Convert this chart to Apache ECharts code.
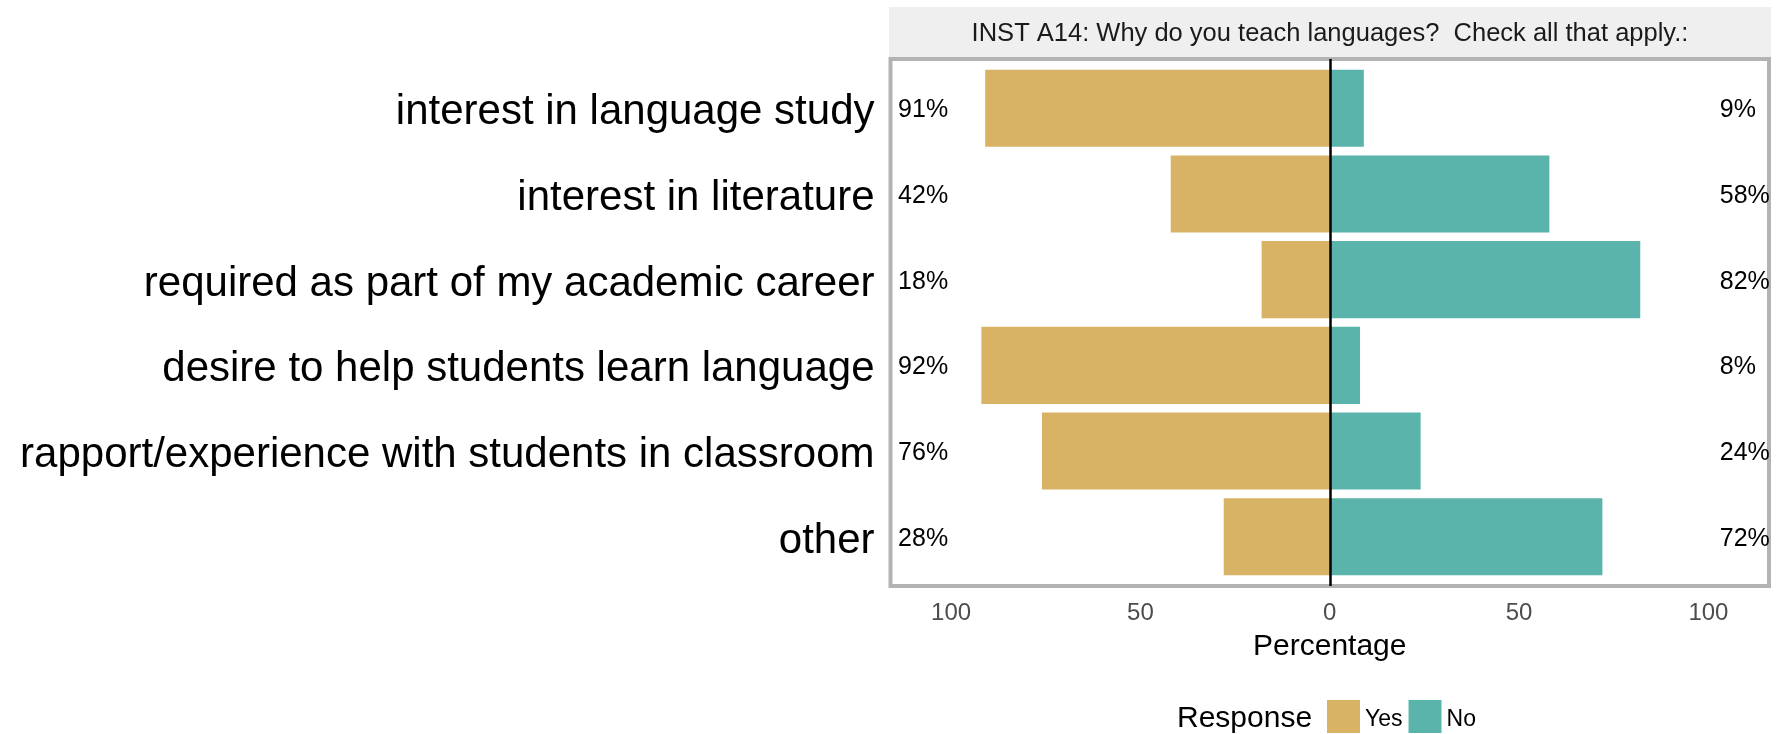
<!DOCTYPE html>
<html>
<head>
<meta charset="utf-8">
<script src="https://cdn.jsdelivr.net/npm/echarts@6/dist/echarts.min.js"></script>
<style>
  html, body { margin: 0; padding: 0; background: #fff; }
  #chart { width: 1785px; height: 734px; }
</style>
</head>
<body>
<div id="chart"></div>
<script>
// ---- data ----
const categories = [
  'interest in language study',
  'interest in literature',
  'required as part of my academic career',
  'desire to help students learn language',
  'rapport/experience with students in classroom',
  'other'
];
const yesValues = [91, 42, 18, 92, 76, 28];
const noValues = [9, 58, 82, 8, 24, 72];
const xTickValues = [-100, -50, 0, 50, 100];
const xMinorValues = [-100, -75, -50, -25, 0, 25, 50, 75, 100];
const seriesNames = ['Yes', 'No'];
const chartTitle = 'INST A14: Why do you teach languages?  Check all that apply.:';
const xAxisTitle = 'Percentage';
const legendTitle = 'Response';

// ---- styles ----
const FONT = '"Liberation Sans", Arial, Helvetica, sans-serif';
const YES_COLOR = '#D8B365';
const NO_COLOR = '#5AB4AC';
const BORDER = '#b3b3b3';
const X_MIN = -116, X_MAX = 116;
const LEFT_LABEL_X = -114, RIGHT_LABEL_X = 103;
const LABEL_DY = 2;

const catIdx = categories.map((c, i) => i);

function makeRender(sign, color, labelX) {
  return function (params, api) {
    const idx = api.value(0);
    const v = api.value(1);
    const p0 = api.coord([0, idx]);
    const p1 = api.coord([sign * v, idx]);
    const h = Math.abs(api.size([0, 0.9])[1]);
    const lp = api.coord([labelX, idx]);
    return {
      type: 'group',
      children: [
        {
          type: 'rect',
          shape: { x: Math.min(p0[0], p1[0]), y: p0[1] - h / 2, width: Math.abs(p1[0] - p0[0]), height: h },
          style: { fill: color }
        },
        {
          type: 'text',
          x: lp[0], y: lp[1] + LABEL_DY,
          style: { text: v + '%', fill: '#000', font: '25px ' + FONT, textAlign: 'left', textVerticalAlign: 'middle' }
        }
      ]
    };
  };
}

const chart = echarts.init(document.getElementById('chart'), null, { renderer: 'canvas' });

const whiteTick = { show: true, inside: true, length: 4, lineStyle: { color: '#fff', width: 2 } };

chart.setOption({
  animation: false,
  backgroundColor: '#fff',
  grid: {
    left: 890.5, right: 16, top: 59, bottom: 148,
    show: true, backgroundColor: '#fff', borderColor: BORDER, borderWidth: 4
  },
  xAxis: [
    {
      type: 'value', min: X_MIN, max: X_MAX, position: 'bottom',
      axisLine: { show: false },
      splitLine: { show: false },
      axisTick: Object.assign({ customValues: xMinorValues }, whiteTick),
      axisLabel: {
        customValues: xTickValues,
        formatter: v => String(Math.abs(v)),
        fontSize: 24, color: '#4d4d4d', fontFamily: FONT, margin: 15
      },
      name: xAxisTitle, nameLocation: 'middle', nameGap: 46,
      nameTextStyle: { fontSize: 30, color: '#000', fontFamily: FONT }
    },
    {
      type: 'value', min: X_MIN, max: X_MAX, position: 'top',
      axisLine: { show: false }, splitLine: { show: false }, axisLabel: { show: false },
      axisTick: Object.assign({ customValues: xMinorValues }, whiteTick)
    }
  ],
  yAxis: [
    {
      type: 'value', inverse: true, min: -0.575, max: 5.575, position: 'left',
      axisLine: { show: false }, splitLine: { show: false },
      axisTick: Object.assign({ customValues: catIdx }, whiteTick),
      axisLabel: {
        customValues: catIdx,
        formatter: v => categories[Math.round(v)],
        fontSize: 42, color: '#000', fontFamily: FONT, margin: 16,
        verticalAlign: 'top', lineHeight: 9
      }
    },
    {
      type: 'value', inverse: true, min: -0.575, max: 5.575, position: 'right',
      axisLine: { show: false }, splitLine: { show: false }, axisLabel: { show: false },
      axisTick: Object.assign({ customValues: catIdx }, whiteTick)
    }
  ],
  legend: {
    data: seriesNames,
    left: 1327, top: 700, padding: 0,
    itemWidth: 33, itemHeight: 33, itemGap: 6,
    icon: 'rect',
    formatter: name => '{t|' + name + '}',
    textStyle: {
      fontSize: 23, color: '#000', fontFamily: FONT,
      rich: { t: { fontSize: 23, color: '#000', fontFamily: FONT, padding: [6, 0, 0, 0] } }
    },
    selectedMode: false
  },
  graphic: [
    { type: 'rect', shape: { x: 889, y: 7, width: 882, height: 50 }, style: { fill: '#efefef' }, z: -1 },
    { type: 'text', x: 1330, y: 34, style: { text: chartTitle, font: '25.5px ' + FONT, fill: '#1a1a1a', textAlign: 'center', textVerticalAlign: 'middle' } },
    { type: 'text', x: 1177, y: 719, style: { text: legendTitle, font: '30px ' + FONT, fill: '#000', textAlign: 'left', textVerticalAlign: 'middle' } }
  ],
  series: [
    {
      name: 'zero', type: 'line', data: [], z: 1, silent: true,
      markLine: {
        silent: true, symbol: 'none', label: { show: false },
        lineStyle: { color: '#000', width: 2.5, type: 'solid' },
        data: [{ xAxis: 0 }]
      }
    },
    {
      name: seriesNames[0], type: 'custom', z: 3,
      itemStyle: { color: YES_COLOR },
      encode: { x: 1, y: 0 },
      data: catIdx.map(i => [i, yesValues[i]]),
      renderItem: makeRender(-1, YES_COLOR, LEFT_LABEL_X)
    },
    {
      name: seriesNames[1], type: 'custom', z: 3,
      itemStyle: { color: NO_COLOR },
      encode: { x: 1, y: 0 },
      data: catIdx.map(i => [i, noValues[i]]),
      renderItem: makeRender(1, NO_COLOR, RIGHT_LABEL_X)
    }
  ]
});
</script>
</body>
</html>
